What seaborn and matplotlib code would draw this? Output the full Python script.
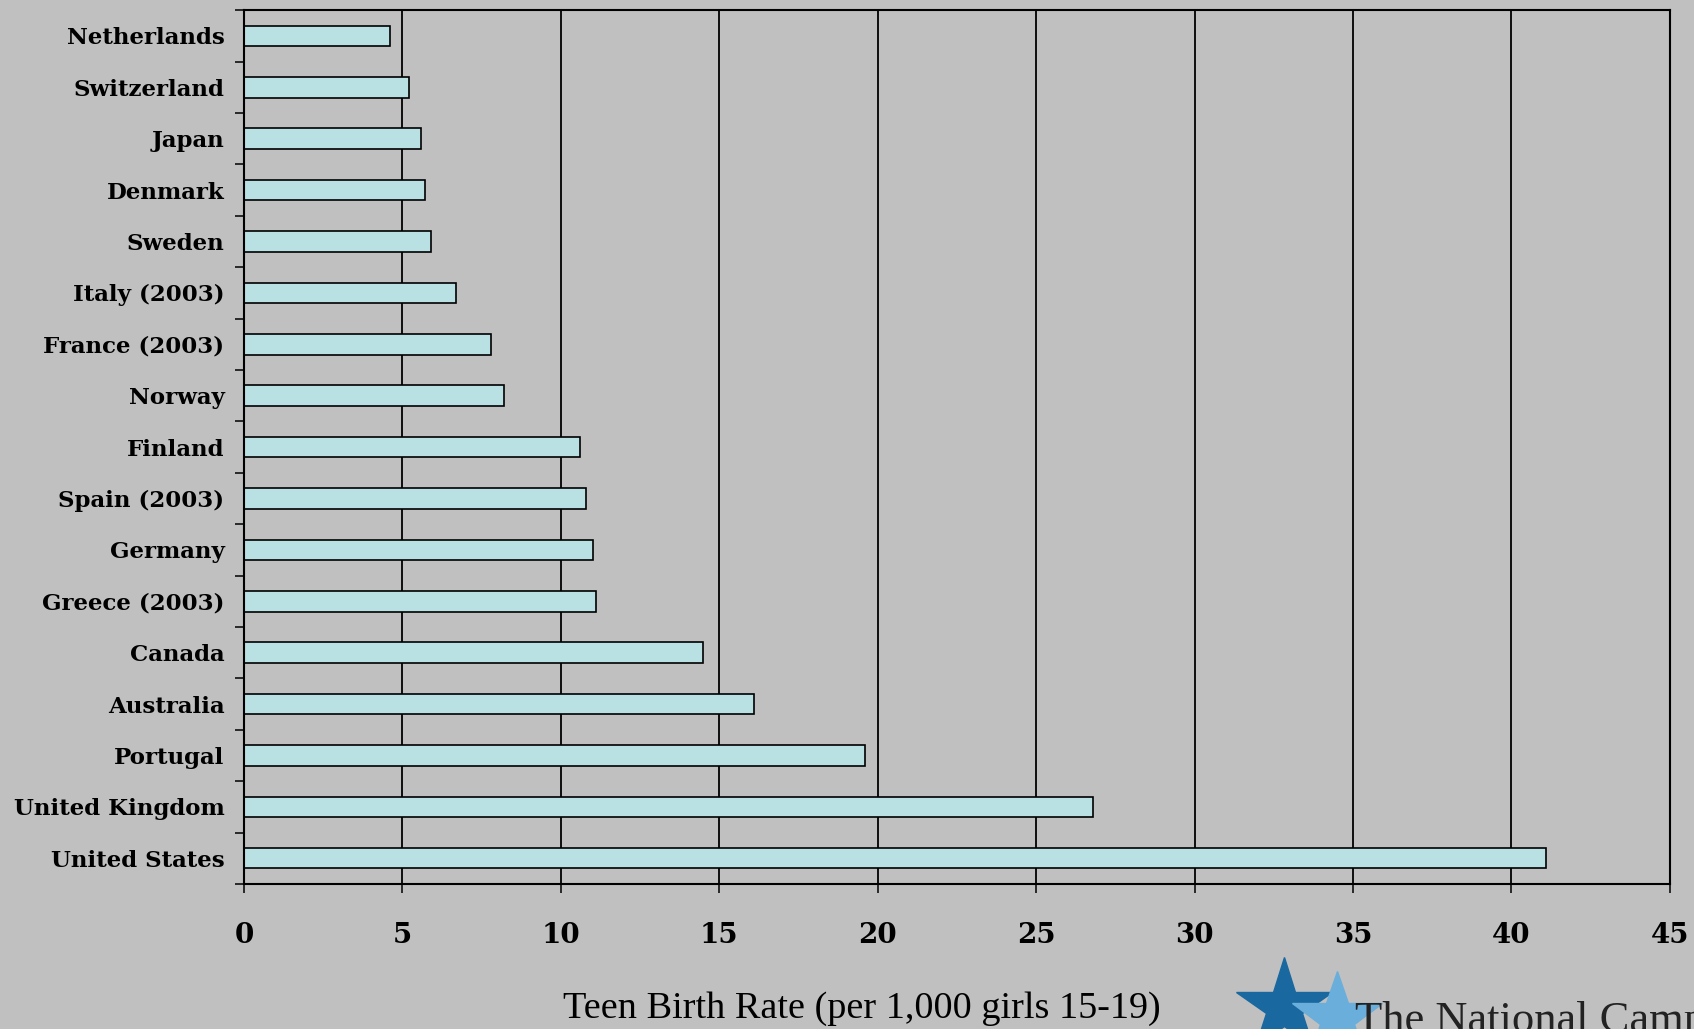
import numpy as np
import pandas as pd
import seaborn as sns
import matplotlib.pyplot as plt
from matplotlib.lines import Line2D

# Data
countries = [
    "Netherlands", "Switzerland", "Japan", "Denmark", "Sweden",
    "Italy (2003)", "France (2003)", "Norway", "Finland", "Spain (2003)",
    "Germany", "Greece (2003)", "Canada", "Australia", "Portugal",
    "United Kingdom", "United States",
]
rates = [4.6, 5.2, 5.6, 5.7, 5.9, 6.7, 7.8, 8.2, 10.6, 10.8,
         11.0, 11.1, 14.5, 16.1, 19.6, 26.8, 41.1]
x_ticks = [0, 5, 10, 15, 20, 25, 30, 35, 40, 45]
x_title = "Teen Birth Rate (per 1,000 girls 15-19)"
logo_text = "The National Campaign"

BG = "#c0c0c0"
BAR = "#b9e0e3"

sns.set_theme(style="white")
plt.rcParams["font.family"] = ["DejaVu Serif"]

df = pd.DataFrame({"Country": countries, "Rate": rates})

fig = plt.figure(figsize=(16.94, 10.29), dpi=100, facecolor=BG)
ax = fig.add_axes([0.144, 0.141, 0.9858 - 0.144, 0.990 - 0.141])
ax.set_facecolor(BG)

sns.barplot(
    data=df, x="Rate", y="Country", orient="h",
    color=BAR, edgecolor="black", linewidth=1.2, width=0.4,
    saturation=1, ax=ax,
)

ax.set_xlim(0, 45)
ax.set_ylim(len(countries) - 0.5, -0.5)
ax.set_xticks(x_ticks)
ax.set_xticklabels([str(t) for t in x_ticks], fontsize=20, fontweight="bold")
ax.set_yticklabels(countries, fontsize=16.5, fontweight="bold")
ax.set_xlabel("")
ax.set_ylabel("")

# vertical gridlines behind bars
ax.set_axisbelow(True)
ax.xaxis.grid(True, color="black", linewidth=1.3)
ax.yaxis.grid(False)

for s in ax.spines.values():
    s.set_visible(True)
    s.set_color("black")
    s.set_linewidth(1.5)

# y ticks sit between the categories
ax.set_yticks(np.arange(-0.5, len(countries), 1), minor=True)
ax.tick_params(axis="y", which="major", length=0, pad=14)
ax.tick_params(axis="y", which="minor", direction="out", length=6.5,
               width=1.1, color="black", left=True)
ax.tick_params(axis="x", which="major", direction="out", length=6.5,
               width=1.1, color="black", bottom=True, pad=21)
for lbl in ax.get_xticklabels() + ax.get_yticklabels():
    lbl.set_color("black")

fig.text(0.509, 0.0107, x_title, ha="center", va="baseline",
         fontsize=27.5, family=["Liberation Serif", "DejaVu Serif"], color="black")

# logo at bottom right, partly cut off by the figure edge
fig.add_artist(Line2D([0.758], [0.021], marker="*", markersize=72,
                      color="#1a68a0", linestyle="none",
                      transform=fig.transFigure))
fig.add_artist(Line2D([0.789], [0.011], marker="*", markersize=68,
                      color="#6aaedb", linestyle="none",
                      transform=fig.transFigure))
fig.text(0.8, -0.003, logo_text, ha="left", va="baseline", fontsize=32,
         family=["Liberation Serif", "DejaVu Serif"], color="#222222")

fig.savefig("out.png", dpi=100, facecolor=BG)
